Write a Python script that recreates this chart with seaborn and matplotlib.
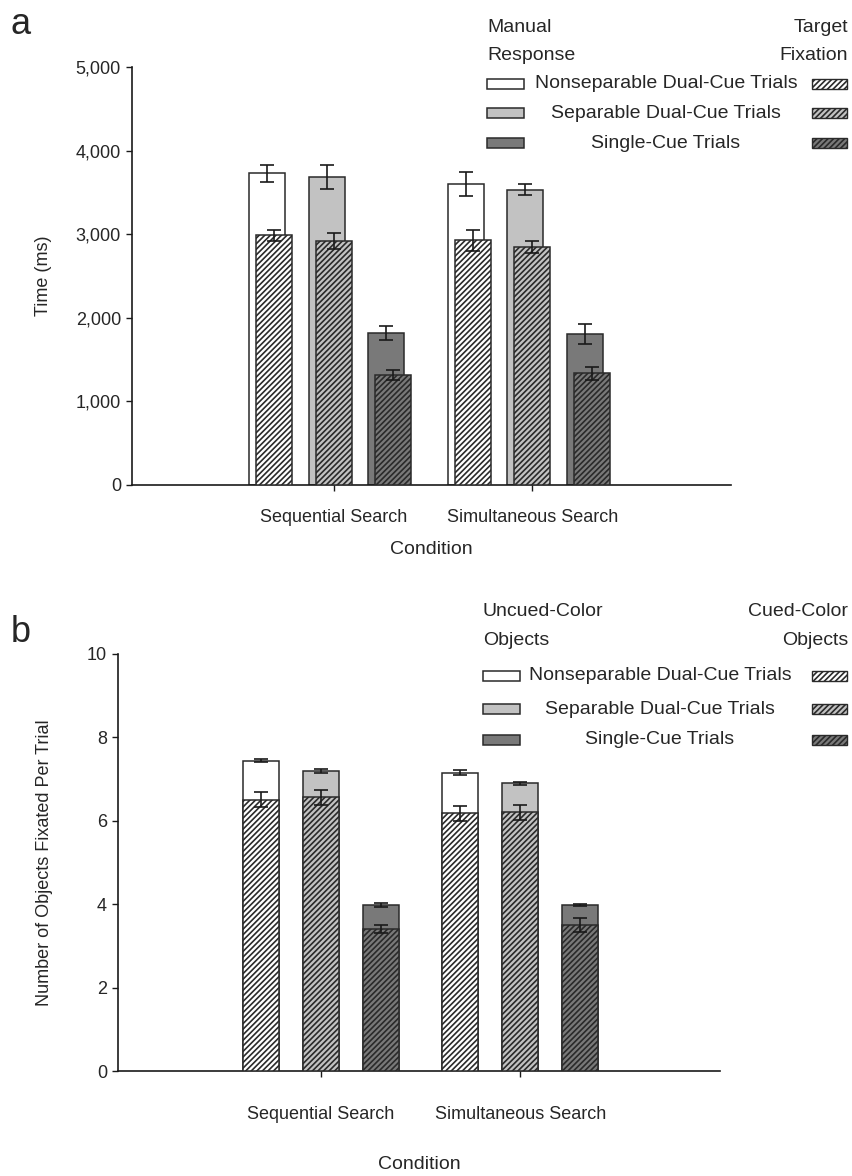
import matplotlib
matplotlib.use("Agg")
import matplotlib.pyplot as plt
from matplotlib.patches import Rectangle
import seaborn as sns
import pandas as pd
import numpy as np

# ---------------- data ----------------
conditions = ["Sequential Search", "Simultaneous Search"]
trial_types = ["Nonseparable Dual-Cue Trials", "Separable Dual-Cue Trials", "Single-Cue Trials"]

# Panel a: time (ms); rows = condition, cols = trial type
manual_rt = [[3730, 3680, 1820], [3600, 3530, 1810]]
manual_rt_err = [[100, 145, 85], [140, 67, 120]]
target_fix = [[2985, 2915, 1320], [2925, 2850, 1335]]
target_fix_err = [[70, 95, 60], [125, 72, 75]]

# Panel b: number of objects fixated per trial
all_objects = [[7.44, 7.20, 3.98], [7.15, 6.90, 3.99]]
all_objects_err = [[0.04, 0.05, 0.04], [0.06, 0.03, 0.025]]
cued_objects = [[6.51, 6.56, 3.40], [6.18, 6.20, 3.50]]
cued_objects_err = [[0.18, 0.17, 0.10], [0.18, 0.19, 0.16]]

a_yticks = [0, 1000, 2000, 3000, 4000, 5000]
a_yticklabels = ["0", "1,000", "2,000", "3,000", "4,000", "5,000"]
b_yticks = [0, 2, 4, 6, 8, 10]

# ---------------- style ----------------
sns.set_style("white")
plt.rcParams["font.family"] = ["Liberation Sans", "DejaVu Sans"]
plt.rcParams["hatch.linewidth"] = 1.2
plt.rcParams["hatch.color"] = "#1a1a1a"

fill_colors = {trial_types[0]: "#ffffff", trial_types[1]: "#c2c2c2", trial_types[2]: "#797979"}
EDGE = "#2a2a2a"
HATCH = "//////"
FS = 13
LFS = 14

W, H = 852, 1176
fig = plt.figure(figsize=(W / 100, H / 100), dpi=100)


def fx(px):
    return px / W


def fy(py):
    return 1 - py / H


def long_df(values, errs):
    rows = []
    for ci, c in enumerate(conditions):
        for ti, t in enumerate(trial_types):
            rows.append({"Condition": c, "Trial": t, "value": values[ci][ti], "err": errs[ci][ti]})
    return pd.DataFrame(rows)


def draw_bars(ax, df, hatch=None, shift=0.0, z=2):
    n_before = len(ax.containers)
    kw = dict(edgecolor=EDGE, linewidth=1.1, zorder=z)
    if hatch:
        kw["hatch"] = hatch
    sns.barplot(data=df, x="Condition", y="value", hue="Trial", order=conditions,
                hue_order=trial_types, palette=fill_colors, width=0.9, gap=0.4,
                legend=False, errorbar=None, ax=ax, **kw)
    conts = ax.containers[n_before:]
    for ti, cont in enumerate(conts):
        for ci, p in enumerate(cont.patches):
            p.set_x(p.get_x() + shift)
            xc = p.get_x() + p.get_width() / 2
            sub = df[(df["Condition"] == conditions[ci]) & (df["Trial"] == trial_types[ti])]
            ax.errorbar(xc, p.get_height(), yerr=sub["err"].iloc[0], fmt="none",
                        ecolor="#1a1a1a", elinewidth=1.2, capsize=5, capthick=1.2, zorder=z + 0.5)


def style_axis(ax, yticks, yticklabels, ylim, ylabel, xpad, xlabelpad, ylabelpad):
    ax.set_xlim(-1.015, 2.0)
    ax.set_ylim(*ylim)
    ax.set_yticks(yticks)
    ax.set_yticklabels(yticklabels, fontsize=FS)
    ax.set_xticks([0, 1])
    ax.set_xticklabels(conditions, fontsize=FS)
    ax.set_xlabel("Condition", fontsize=LFS, labelpad=xlabelpad)
    ax.set_ylabel(ylabel, fontsize=FS, labelpad=ylabelpad)
    sns.despine(ax=ax)
    for s in ["left", "bottom"]:
        ax.spines[s].set_linewidth(1.2)
        ax.spines[s].set_color("#1a1a1a")
    ax.tick_params(axis="both", direction="out", length=4, width=1, color="#1a1a1a",
                   left=True, bottom=True)
    ax.tick_params(axis="y", pad=4)
    ax.tick_params(axis="x", pad=xpad)


def draw_legend(head_left, head_right, head_y, row_y, left_x, text_cx, right_x):
    for i, line in enumerate(head_left):
        fig.text(fx(left_x), fy(head_y[i]), line, fontsize=LFS, ha="left", va="center")
    for i, line in enumerate(head_right):
        fig.text(fx(848), fy(head_y[i]), line, fontsize=LFS, ha="right", va="center")
    for t, y in zip(trial_types, row_y):
        fig.patches.append(Rectangle((fx(left_x), fy(y + 5)), fx(37), 10 / H, transform=fig.transFigure,
                                     facecolor=fill_colors[t], edgecolor=EDGE, linewidth=1.1))
        fig.text(fx(text_cx), fy(y), t, fontsize=LFS, ha="center", va="center")
        fig.patches.append(Rectangle((fx(right_x), fy(y + 5)), fx(35), 10 / H, transform=fig.transFigure,
                                     facecolor=fill_colors[t], edgecolor=EDGE, linewidth=1.0, hatch=HATCH))


# ---------------- panel a ----------------
axA = fig.add_axes([fx(132), fy(485), fx(731 - 132), (485 - 67) / H])
draw_bars(axA, long_df(manual_rt, manual_rt_err), hatch=None, shift=-0.035, z=2)
draw_bars(axA, long_df(target_fix, target_fix_err), hatch=HATCH, shift=0.0, z=3)
style_axis(axA, a_yticks, a_yticklabels, (0, 5000), "Time (ms)", xpad=13, xlabelpad=11, ylabelpad=17)
fig.text(fx(11), fy(24), "a", fontsize=26, ha="left", va="center")
draw_legend(["Manual", "Response"], ["Target", "Fixation"], [28, 55], [84, 113, 143], 487, 666, 812)

# ---------------- panel b ----------------
axB = fig.add_axes([fx(118), fy(1071), fx(720 - 118), (1071 - 654) / H])
draw_bars(axB, long_df(all_objects, all_objects_err), hatch=None, shift=0.0, z=2)
draw_bars(axB, long_df(cued_objects, cued_objects_err), hatch=HATCH, shift=0.0, z=3)
style_axis(axB, b_yticks, [str(v) for v in b_yticks], (0, 10), "Number of Objects Fixated Per Trial",
           xpad=21, xlabelpad=24, ylabelpad=24)
fig.text(fx(11), fy(632), "b", fontsize=26, ha="left", va="center")
draw_legend(["Uncued-Color", "Objects"], ["Cued-Color", "Objects"], [612, 640], [676, 709, 740], 483, 660, 812)

fig.savefig("out.png", dpi=100)
